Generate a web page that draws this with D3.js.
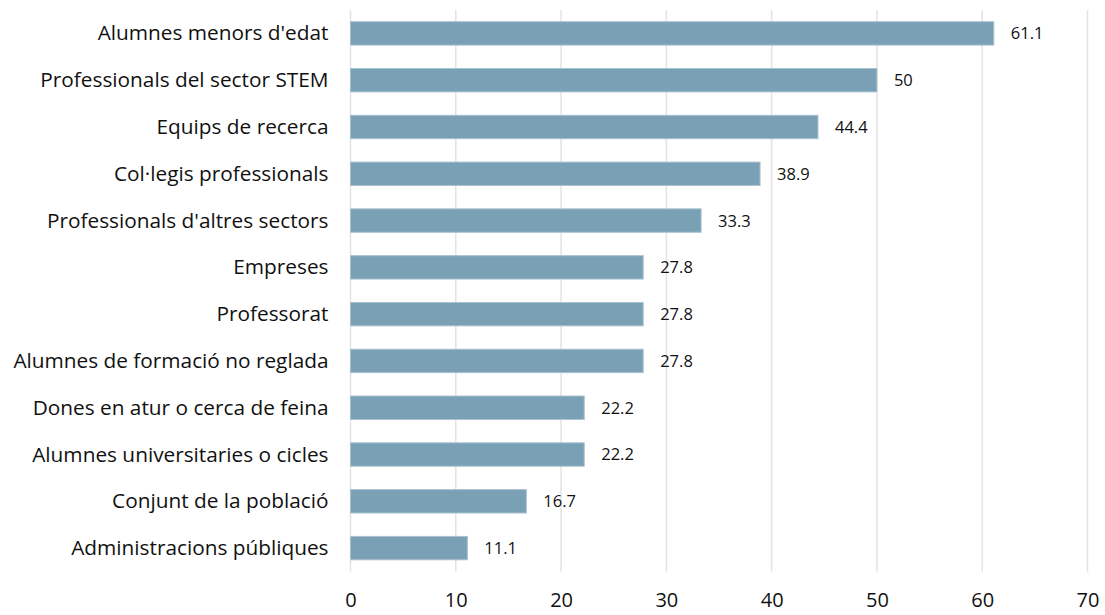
<!doctype html>
<html lang="en">
<head>
<meta charset="utf-8">
<title>Chart</title>
<script src="https://cdn.jsdelivr.net/npm/d3@7"></script>
<style>
  body { margin: 0; background: #fff; }
  svg text {
    font-family: "Open Sans", Lato, sans-serif;
    fill: #111;
    font-variant-ligatures: none;
    font-feature-settings: "locl" 0, "liga" 0;
  }
</style>
</head>
<body>
<svg width="1105" height="615"></svg>
<script>
// values
var categories = [
  "Alumnes menors d'edat",
  "Professionals del sector STEM",
  "Equips de recerca",
  "Col·legis professionals",
  "Professionals d'altres sectors",
  "Empreses",
  "Professorat",
  "Alumnes de formació no reglada",
  "Dones en atur o cerca de feina",
  "Alumnes universitaries o cicles",
  "Conjunt de la població",
  "Administracions públiques"
];
var values = [61.1, 50, 44.4, 38.9, 33.3, 27.8, 27.8, 27.8, 22.2, 22.2, 16.7, 11.1];
var xTicks = [0, 10, 20, 30, 40, 50, 60, 70];

var svg = d3.select("svg");
var plotLeft = 350.5, plotRight = 1087.5, plotTop = 10, plotBottom = 571.5;

var x = d3.scaleLinear().domain([0, 70]).range([plotLeft, plotRight]);
var y = d3.scaleBand().domain(categories).range([plotTop, plotBottom]).paddingInner(0.5).paddingOuter(0.25);

// gridlines
svg.append("g").selectAll("line")
  .data(xTicks)
  .enter().append("line")
  .attr("x1", function(d) { return x(d); })
  .attr("x2", function(d) { return x(d); })
  .attr("y1", plotTop)
  .attr("y2", plotBottom)
  .attr("stroke", "#e3e3e3")
  .attr("stroke-width", 1.5);

// bars
svg.append("g").selectAll("rect")
  .data(values)
  .enter().append("rect")
  .attr("x", x(0))
  .attr("y", function(d, i) { return y(categories[i]); })
  .attr("width", function(d) { return x(d) - x(0); })
  .attr("height", y.bandwidth())
  .attr("fill", "#7aa0b5")
  .attr("stroke", "#a9c2d0")
  .attr("stroke-width", 1);

// value labels
svg.append("g").selectAll("text")
  .data(values)
  .enter().append("text")
  .attr("x", function(d) { return x(d) + 17; })
  .attr("y", function(d, i) { return y(categories[i]) + y.bandwidth() / 2; })
  .attr("dy", "0.36em")
  .style("font-size", "16.5px")
  .text(function(d) { return d; });

// category axis
var yAxis = svg.append("g")
  .attr("transform", "translate(" + (plotLeft - 22) + ",0)")
  .call(d3.axisLeft(y).tickSize(0).tickPadding(0));
yAxis.select(".domain").remove();
yAxis.selectAll("text").style("font-size", "20.8px").attr("dy", "0.34em");

// value axis
var xAxis = svg.append("g")
  .attr("transform", "translate(0," + 593 + ")")
  .call(d3.axisBottom(x).tickValues(xTicks).tickSize(0).tickPadding(0));
xAxis.select(".domain").remove();
xAxis.selectAll("text").style("font-size", "20px");
</script>
</body>
</html>
